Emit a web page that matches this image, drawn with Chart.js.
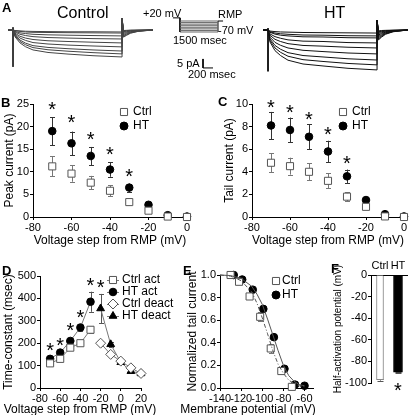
<!DOCTYPE html>
<html>
<head>
<meta charset="utf-8">
<script src="https://cdn.jsdelivr.net/npm/chart.js@4.4.0/dist/chart.umd.min.js"></script>
<style>
body { margin: 0; width: 410px; height: 415px; overflow: hidden; background: #fff; position: relative; font-family: "Liberation Sans", Arial, sans-serif; }
canvas { position: absolute; }
.t { position: absolute; white-space: nowrap; color: #000; line-height: 1; }
.lab { font-weight: bold; font-size: 13px; }
.ttl { font-size: 12px; text-align: center; }
</style>
</head>
<body>
<canvas id="trCtrl" style="left:0;top:10px" width="240" height="70"></canvas>
<canvas id="proto" style="left:160px;top:5px" width="80" height="35"></canvas>
<canvas id="trHT" style="left:255px;top:10px" width="155" height="70"></canvas>
<canvas id="chB" style="left:0;top:90px" width="200" height="162"></canvas>
<canvas id="chC" style="left:205px;top:90px" width="205" height="162"></canvas>
<canvas id="chD" style="left:0;top:262px" width="180" height="157"></canvas>
<canvas id="chE" style="left:180px;top:262px" width="140" height="157"></canvas>

<div class="t lab" style="left:2px;top:1px">A</div>
<div class="t" style="left:57px;top:5px;font-size:16px">Control</div>
<div class="t" style="left:324px;top:5px;font-size:16px">HT</div>
<div class="t" style="left:143px;top:8px;font-size:11px">+20 mV</div>
<div class="t" style="left:218px;top:9px;font-size:11px">RMP</div>
<div class="t" style="left:218px;top:25px;font-size:11px">-70 mV</div>
<div class="t" style="left:173px;top:35px;font-size:11px">1500 msec</div>
<div class="t" style="left:177px;top:58px;font-size:11px">5 pA</div>
<div class="t" style="left:188px;top:69px;font-size:11px">200 msec</div>
<div class="t lab" style="left:1px;top:96px">B</div>
<div class="t lab" style="left:218px;top:95px">C</div>
<div class="t lab" style="left:2px;top:264px">D</div>
<div class="t lab" style="left:183px;top:264px">E</div>
<div class="t lab" style="left:331px;top:262px">F</div>
<div class="t ttl" style="left:-20px;width:200px;top:403px">Voltage step from RMP (mV)</div>
<div class="t ttl" style="left:173px;width:150px;top:403px">Membrane potential (mV)</div>
<canvas id="chF" style="left:325px;top:255px" width="85" height="160"></canvas>

<script>
Chart.defaults.font.family = '"Liberation Sans", Arial, sans-serif';
Chart.defaults.font.size = 11;
Chart.defaults.color = '#000';
Chart.defaults.animation = false;
Chart.defaults.responsive = false;
Chart.defaults.devicePixelRatio = 1;
Chart.defaults.plugins.legend.display = false;
Chart.defaults.plugins.tooltip.enabled = false;

// ---- A: current traces (pA) vs time (msec) ----
const traceT = [-100, 0, 40, 140, 250, 400, 700, 1100, 1600, 2180, 2181, 2210, 2270, 2350, 2500, 2800];
const ctrlTraces = [
  [0, 0, -0.3, -0.5, -0.7, -0.8, -0.9, -1.0, -1.0, -1.1, 6.5, -0.3, -0.2, -0.1, -0.05, 0],
  [0, 0, -0.4, -0.8, -1.1, -1.3, -1.4, -1.5, -1.6, -1.7, 6.5, -0.5, -0.35, -0.2, -0.1, 0],
  [0, 0, -0.8, -1.6, -2.0, -2.4, -2.7, -2.9, -3.1, -3.3, 6.5, -0.9, -0.7, -0.4, -0.2, 0],
  [0, 0, -1.2, -2.4, -3.1, -3.7, -4.2, -4.5, -4.8, -5.0, 6.5, -1.3, -1.0, -0.6, -0.3, 0],
  [0, 0, -1.8, -3.5, -4.5, -5.3, -6.0, -6.4, -6.8, -7.2, 6.5, -1.9, -1.4, -0.9, -0.4, 0],
  [0, 0, -2.3, -4.5, -5.8, -7.0, -7.8, -8.4, -8.9, -9.4, 6.5, -2.5, -1.9, -1.1, -0.5, 0],
  [0, 0, -2.9, -5.6, -7.3, -8.7, -9.7, -10.4, -11.1, -11.7, 6.5, -3.1, -2.3, -1.4, -0.6, 0],
  [0, 0, -3.3, -6.4, -8.2, -9.8, -11.0, -11.8, -12.6, -13.3, 6.5, -3.5, -2.7, -1.6, -0.7, 0],
  [0, 0, -3.8, -7.2, -9.3, -11.1, -12.5, -13.4, -14.3, -15.0, 6.5, -4.0, -3.0, -1.8, -0.8, 0]
];
const htTraces = [
  [0, 0, -0.6, -0.9, -1.1, -1.2, -1.4, -1.5, -1.6, -1.7, 5.5, -0.5, -0.3, -0.2, -0.1, 0],
  [0, 0, -1.0, -1.7, -2.1, -2.4, -2.8, -2.9, -3.2, -3.3, 5.5, -1.0, -0.7, -0.4, -0.2, 0],
  [0, 0, -1.3, -2.3, -2.9, -3.3, -3.8, -3.9, -4.3, -4.4, 5.5, -1.4, -1.0, -0.6, -0.3, 0],
  [0, 0, -2.2, -3.7, -4.6, -5.5, -6.2, -6.4, -7.0, -7.2, 5.5, -2.0, -1.5, -0.9, -0.4, 0],
  [0, 0, -3.0, -5.2, -6.4, -7.6, -8.6, -9.0, -9.6, -10.0, 5.5, -2.8, -2.0, -1.2, -0.5, 0],
  [0, 0, -4.0, -6.9, -8.5, -10.0, -11.3, -12.0, -12.8, -13.3, 5.5, -3.5, -2.6, -1.5, -0.7, 0],
  [0, 0, -5.0, -8.6, -10.7, -12.6, -14.2, -15.0, -16.0, -16.7, 5.5, -4.2, -3.1, -1.8, -0.8, 0],
  [0, 0, -5.8, -10.0, -12.4, -14.6, -16.5, -17.5, -18.6, -19.4, 5.5, -4.9, -3.6, -2.1, -0.9, 0],
  [0, 0, -6.7, -11.5, -14.2, -16.8, -18.9, -20.0, -21.3, -22.2, 5.5, -5.5, -4.0, -2.4, -1.0, 0]
];
const ctrlOnsetT = [0, 0], ctrlOnsetI = [1.5, -20.5];
const htOnsetT = [0, 0], htOnsetI = [1.0, -23.0];
const scaleBarT = [3800, 3800, 4000], scaleBarI = [-16.1, -21.1, -21.1]; // 5 pA, 200 msec

// protocol (mV vs msec)
const pulseLevels = [0, -10, -20, -30, -40, -50, -60, -70];
const pulseT = [0, 1500];
const preT = [-280, 0, 0], preV = [20, 20, -70];
const postT = [1500, 1500, 1700], postV = [-70, 0, 0];

// ---- B: peak current ----
const stepV = [-70, -60, -50, -40, -30, -20, -10, 0];
const peakCtrl = [11.2, 9.6, 7.6, 5.8, 3.3, 1.4, 0.1, 0];
const peakCtrlErr = [2.2, 1.8, 1.5, 1.2, 0.4, 0.3, 0, 0];
const peakHT = [19.0, 16.3, 13.5, 10.5, 6.5, 2.7, 0.4, 0.1];
const peakHTErr = [3.1, 2.6, 2.0, 1.6, 0.9, 0.4, 0.1, 0];
const peakStarV = [-70, -60, -50, -40, -30];
const peakStarY = [24.4, 21.5, 17.8, 14.6, 9.7];

// ---- C: tail current ----
const tailCtrl = [4.8, 4.5, 4.0, 3.2, 1.8, 0.9, 0.05, 0];
const tailCtrlErr = [0.85, 0.75, 0.75, 0.65, 0.4, 0.2, 0, 0];
const tailHT = [8.1, 7.7, 7.1, 5.8, 3.6, 1.5, 0.25, 0.05];
const tailHTErr = [1.2, 1.1, 1.1, 0.95, 0.6, 0.2, 0.05, 0];
const tailStarV = [-70, -60, -50, -40, -30];
const tailStarY = [10.0, 9.5, 8.9, 7.6, 5.0];

// ---- D: time constants ----
const actV = [-70, -60, -50, -40, -30];
const actCtrl = [110, 130, 180, 200, 260];
const actCtrlErr = [5, 5, 8, 8, 15];
const actHT = [130, 158, 210, 270, 385];
const actHTErr = [8, 8, 10, 15, 45];
const deactV = [-20, -10, 0, 10, 20];
const deactCtrl = [200, 150, 120, 90, 65];
const deactCtrlErr = [12, 8, 6, 5, 5];
const deactHT = [355, 195, 115, 75, 65];
const deactHTErr = [65, 10, 6, 5, 5];
const tauStarV = [-70, -60, -50, -40, -30, -20];
const tauStarY = [183, 205, 268, 330, 470, 462];

// ---- E: activation curves ----
const boltzCtrlV = [-130, -122, -112, -102, -92, -82, -72];
const boltzCtrl = [1.0, 0.94, 0.81, 0.63, 0.35, 0.15, 0.01];
const boltzCtrlErr = [0.01, 0.02, 0.02, 0.04, 0.04, 0.02, 0];
const boltzHTV = [-127, -119, -109, -99, -89, -79, -69, -60];
const boltzHT = [1.0, 0.96, 0.87, 0.70, 0.45, 0.17, 0.03, 0.02];
const boltzHTErr = [0.01, 0.01, 0.01, 0.02, 0.02, 0.02, 0.01, 0];
const fitV = [-140, -130, -120, -110, -105, -100, -95, -90, -85, -80, -75, -70, -65, -60];
const fitCtrl = [1.0, 0.99, 0.95, 0.85, 0.75, 0.62, 0.48, 0.33, 0.21, 0.13, 0.07, 0.04, 0.02, 0.01];
const fitHT = [1.0, 0.995, 0.97, 0.9, 0.83, 0.74, 0.61, 0.47, 0.33, 0.2, 0.11, 0.06, 0.03, 0.02];

// ---- F: half-activation ----
const halfCats = ['Ctrl', 'HT'];
const halfV = [-97, -90];
const halfErr = [0.8, 0.6];
const halfStarY = [-104];

// helpers
const pts = (xs, ys) => xs.map((x, i) => ({ x, y: ys[i] }));

function axis(o) {
  const a = {
    type: o.type || 'linear', position: o.pos,
    afterFit: s => { if (o.pos === 'left' || o.pos === 'right') s.width = o.size; else s.height = o.size; },
    border: { display: true, color: '#000', width: 1 },
    grid: { display: true, drawOnChartArea: false, drawTicks: true, tickLength: o.tick ?? 3, color: '#000' },
    ticks: { autoSkip: false, maxRotation: 0, padding: o.tp ?? 1, color: '#000', font: { size: 11 }, includeBounds: false },
    title: { display: !!o.title, text: o.title, color: '#000', font: { size: o.tfs || 12 }, padding: o.tpad || 0 }
  };
  if (o.min !== undefined) a.min = o.min;
  if (o.max !== undefined) a.max = o.max;
  if (o.step !== undefined) a.ticks.stepSize = o.step;
  if (o.cb) a.ticks.callback = o.cb;
  if (o.offset !== undefined) a.offset = o.offset;
  return a;
}

function hidden(min, max) {
  return { type: 'linear', display: false, min, max };
}

const annot = {
  id: 'annot',
  beforeDatasetsDraw(chart, args, o) {
    const ctx = chart.ctx, xs = chart.scales.x, ys = chart.scales.y;
    (o.errors || []).forEach(e => {
      ctx.save();
      ctx.strokeStyle = e.color; ctx.lineWidth = 1;
      e.x.forEach((xv, i) => {
        if (!e.err[i]) return;
        const px = Math.round(xs.getPixelForValue(xv)) + 0.5;
        const y1 = ys.getPixelForValue(e.y[i] - e.err[i]);
        const y2 = ys.getPixelForValue(e.y[i] + e.err[i]);
        const c = e.cap || 2.5;
        ctx.beginPath();
        ctx.moveTo(px, y1); ctx.lineTo(px, y2);
        ctx.moveTo(px - c, Math.round(y1) + 0.5); ctx.lineTo(px + c, Math.round(y1) + 0.5);
        ctx.moveTo(px - c, Math.round(y2) + 0.5); ctx.lineTo(px + c, Math.round(y2) + 0.5);
        ctx.stroke();
      });
      ctx.restore();
    });
  },
  afterDatasetsDraw(chart, args, o) {
    const ctx = chart.ctx, xs = chart.scales.x, ys = chart.scales.y;
    (o.stars || []).forEach(s => {
      ctx.save();
      ctx.fillStyle = '#000';
      ctx.font = (s.size || 20) + 'px "Liberation Sans", Arial, sans-serif';
      ctx.textAlign = 'center'; ctx.textBaseline = 'middle';
      s.x.forEach((xv, i) => {
        ctx.fillText('*', xs.getPixelForValue(xv), ys.getPixelForValue(s.y[i]) + (s.dy ?? 4));
      });
      ctx.restore();
    });
    const lg = o.legend;
    if (lg) {
      ctx.save();
      ctx.font = (lg.fs || 11) + 'px "Liberation Sans", Arial, sans-serif';
      ctx.textBaseline = 'middle'; ctx.textAlign = 'left';
      lg.items.forEach((it, i) => {
        const y = lg.y + i * lg.row;
        if (lg.line) {
          ctx.strokeStyle = '#777'; ctx.lineWidth = 1;
          ctx.beginPath(); ctx.moveTo(lg.x - lg.line, y + 0.5); ctx.lineTo(lg.x + lg.line, y + 0.5); ctx.stroke();
        }
        ctx.fillStyle = it.fill; ctx.strokeStyle = it.stroke; ctx.lineWidth = 1;
        Chart.helpers.drawPoint(ctx, { pointStyle: it.style, radius: it.r, rotation: 0, borderWidth: 1 }, lg.x, y);
        ctx.fillStyle = '#000';
        ctx.fillText(it.label, lg.x + lg.gap, y);
      });
      ctx.restore();
    }
  }
};
Chart.register(annot);

// ---- F ----
new Chart(document.getElementById('chF'), {
  type: 'bar',
  data: { labels: halfCats, datasets: [
    { data: [halfV[0], null], backgroundColor: '#fff', borderColor: '#888', borderWidth: 1, barThickness: 7, grouped: false },
    { data: [null, halfV[1]], backgroundColor: '#000', borderColor: '#000', borderWidth: 1, barThickness: 9, grouped: false }
  ] },
  options: {
    layout: { padding: { top: 0, right: 3, left: 0, bottom: 32 } },
    scales: {
      x: axis({ type: 'category', pos: 'top', size: 20, tick: 0, tp: 2, offset: true }),
      y: axis({ pos: 'left', min: -100, max: 0, step: 20, size: 46, title: 'Half-activation potential (mV)', tfs: 10, tpad: { top: 7, bottom: 0 } })
    },
    plugins: { annot: {
      errors: [ { x: [0, 1], y: halfV, err: halfErr, color: '#555', cap: 3 } ],
      stars: [ { x: [1], y: halfStarY } ]
    } }
  }
});

// ---- A charts ----
function traceSets(list, color) {
  return list.map(tr => ({
    data: pts(traceT, tr), borderColor: color, borderWidth: 1, pointRadius: 0, tension: 0, fill: false
  }));
}
new Chart(document.getElementById('trCtrl'), {
  type: 'scatter',
  data: { datasets: [
    ...traceSets(ctrlTraces, '#444'),
    { data: pts(ctrlOnsetT, ctrlOnsetI), borderColor: '#222', borderWidth: 1, pointRadius: 0 },
    { data: pts(scaleBarT, scaleBarI), borderColor: '#000', borderWidth: 1, pointRadius: 0 }
  ].map(d => Object.assign({ showLine: true }, d)) },
  options: { layout: { padding: 0 }, scales: { x: hidden(-260, 4540), y: hidden(-27.8, 11.1) } }
});
new Chart(document.getElementById('trHT'), {
  type: 'scatter',
  data: { datasets: [
    ...traceSets(htTraces, '#111'),
    { data: pts(htOnsetT, htOnsetI), borderColor: '#000', borderWidth: 1, pointRadius: 0 }
  ].map(d => Object.assign({ showLine: true }, d)) },
  options: { layout: { padding: 0 }, scales: { x: hidden(-260, 2840), y: hidden(-27.8, 11.1) } }
});
new Chart(document.getElementById('proto'), {
  type: 'scatter',
  data: { datasets: [
    ...pulseLevels.map(v => ({ data: pts(pulseT, [v, v]), borderColor: '#666', borderWidth: 1, pointRadius: 0 })),
    { data: pts(preT, preV), borderColor: '#000', borderWidth: 1, pointRadius: 0 },
    { data: pts(postT, postV), borderColor: '#000', borderWidth: 1, pointRadius: 0 }
  ].map(d => Object.assign({ showLine: true }, d)) },
  options: { layout: { padding: 0 }, scales: { x: hidden(-790, 2369), y: hidden(-121, 102) } }
});

// ---- B / C ----
const ctrlMarker = { pointStyle: 'rect', pointRadius: 5, pointBackgroundColor: '#fff', pointBorderColor: '#555', pointBorderWidth: 1 };
const htMarker = { pointStyle: 'circle', pointRadius: 3.8, pointBackgroundColor: '#000', pointBorderColor: '#000', pointBorderWidth: 1 };

function ivChart(id, ctrl, ctrlErr, ht, htErr, starV, starY, yMax, yStep, yTitle, L) {
  new Chart(document.getElementById(id), {
    type: 'scatter',
    data: { datasets: [
      Object.assign({ data: pts(stepV, ctrl) }, ctrlMarker),
      Object.assign({ data: pts(stepV, ht) }, htMarker)
    ] },
    options: {
      clip: false,
      layout: { padding: { top: L.top, right: L.right, left: 0, bottom: 0 } },
      scales: {
        x: axis({ pos: 'bottom', min: -80, max: 0, step: 20, size: L.xh, title: 'Voltage step from RMP (mV)', tpad: { top: 0, bottom: L.xtp } }),
        y: axis({ pos: 'left', min: 0, max: yMax, step: yStep, size: L.yw, title: yTitle, tpad: { top: L.ytp, bottom: 0 } })
      },
      plugins: { annot: {
        errors: [ { x: stepV, y: ctrl, err: ctrlErr, color: '#777' }, { x: stepV, y: ht, err: htErr, color: '#333' } ],
        stars: [ { x: starV, y: starY } ],
        legend: { x: L.lx, y: L.ly, row: 14, gap: 9, fs: 12, items: [
          { label: 'Ctrl', style: 'rect', r: 5, fill: '#fff', stroke: '#555' },
          { label: 'HT', style: 'circle', r: 4, fill: '#000', stroke: '#000' } ] }
      } }
    }
  });
}
ivChart('chB', peakCtrl, peakCtrlErr, peakHT, peakHTErr, peakStarV, peakStarY, 25, 5, 'Peak current (pA)',
  { top: 14, right: 13, xh: 35, yw: 33, xtp: 4, ytp: 2, lx: 124, ly: 22 });
ivChart('chC', tailCtrl, tailCtrlErr, tailHT, tailHTErr, tailStarV, tailStarY, 10, 2, 'Tail current (pA)',
  { top: 14, right: 4, xh: 35, yw: 47, xtp: 4, ytp: 17, lx: 138, ly: 22 });

// ---- D ----
new Chart(document.getElementById('chD'), {
  type: 'scatter',
  data: { datasets: [
    { data: pts(actV, actCtrl), showLine: true, borderColor: '#777', borderWidth: 1, pointStyle: 'rect', pointRadius: 5, pointBackgroundColor: '#fff', pointBorderColor: '#555' },
    { data: pts(actV, actHT), showLine: true, borderColor: '#777', borderWidth: 1, pointStyle: 'circle', pointRadius: 3.8, pointBackgroundColor: '#000', pointBorderColor: '#000' },
    { data: pts(deactV, deactCtrl), showLine: true, borderColor: '#777', borderWidth: 1, pointStyle: 'rectRot', pointRadius: 5, pointBackgroundColor: '#fff', pointBorderColor: '#555' },
    { data: pts(deactV, deactHT), showLine: true, borderColor: '#777', borderWidth: 1, pointStyle: 'triangle', pointRadius: 4.5, pointBackgroundColor: '#000', pointBorderColor: '#000' }
  ] },
  options: {
    clip: false,
    layout: { padding: { top: 14, right: 39, left: 0, bottom: 0 } },
    scales: {
      x: axis({ pos: 'bottom', min: -80, max: 20, step: 20, size: 31 }),
      y: axis({ pos: 'left', min: 0, max: 500, step: 100, size: 40, title: 'Time-constant (msec)', tpad: { top: 1, bottom: 0 } })
    },
    plugins: { annot: {
      errors: [
        { x: actV, y: actCtrl, err: actCtrlErr, color: '#777' },
        { x: actV, y: actHT, err: actHTErr, color: '#555' },
        { x: deactV, y: deactCtrl, err: deactCtrlErr, color: '#777' },
        { x: deactV, y: deactHT, err: deactHTErr, color: '#555' }
      ],
      stars: [ { x: tauStarV, y: tauStarY } ],
      legend: { x: 113, y: 18, row: 12, gap: 9, fs: 12, line: 6, items: [
        { label: 'Ctrl act', style: 'rect', r: 5, fill: '#fff', stroke: '#555' },
        { label: 'HT act', style: 'circle', r: 3.8, fill: '#000', stroke: '#000' },
        { label: 'Ctrl deact', style: 'rectRot', r: 5, fill: '#fff', stroke: '#555' },
        { label: 'HT deact', style: 'triangle', r: 4.5, fill: '#000', stroke: '#000' } ] }
    } }
  }
});

// ---- E ----
new Chart(document.getElementById('chE'), {
  type: 'scatter',
  data: { datasets: [
    { data: pts(fitV, fitCtrl), showLine: true, borderColor: '#555', borderWidth: 1, borderDash: [4, 2, 1, 2], pointRadius: 0 },
    { data: pts(fitV, fitHT), showLine: true, borderColor: '#555', borderWidth: 1, pointRadius: 0 },
    Object.assign({ data: pts(boltzCtrlV, boltzCtrl) }, ctrlMarker),
    Object.assign({ data: pts(boltzHTV, boltzHT) }, htMarker)
  ] },
  options: {
    clip: false,
    layout: { padding: { top: 13, right: 7, left: 0, bottom: 0 } },
    scales: {
      x: axis({ pos: 'bottom', min: -140, max: -52, step: 20, size: 31 }),
      y: axis({ pos: 'left', min: 0, max: 1, step: 0.2, size: 40, title: 'Normalized tail current', tpad: { top: 5, bottom: 0 }, cb: v => v.toFixed(1) })
    },
    plugins: { annot: {
      errors: [ { x: boltzCtrlV, y: boltzCtrl, err: boltzCtrlErr, color: '#777' }, { x: boltzHTV, y: boltzHT, err: boltzHTErr, color: '#333' } ],
      legend: { x: 96, y: 19, row: 14, gap: 6, fs: 12, items: [
        { label: 'Ctrl', style: 'rect', r: 5, fill: '#fff', stroke: '#555' },
        { label: 'HT', style: 'circle', r: 4, fill: '#000', stroke: '#000' } ] }
    } }
  }
});
</script>
</body>
</html>
